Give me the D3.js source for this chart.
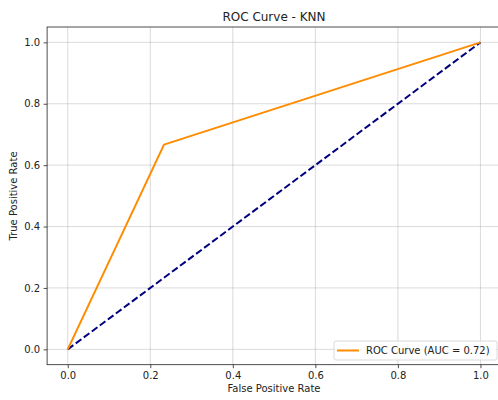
<!DOCTYPE html>
<html><head><meta charset="utf-8">
<script src="https://cdn.jsdelivr.net/npm/d3@7/dist/d3.min.js"></script>
<style>body{margin:0;background:#fff;} text{font-family:"DejaVu Sans",sans-serif;fill:#222;}</style>
</head><body>
<svg id="c" width="498" height="400"></svg>
<script>
const rocFpr = [0.0, 0.2333, 1.0];
const rocTpr = [0.0, 0.6667, 1.0];
const diagX = [0, 1];
const diagY = [0, 1];
const tickValues = [0.0, 0.2, 0.4, 0.6, 0.8, 1.0];
const titleText = "ROC Curve - KNN";
const xLabel = "False Positive Rate";
const yLabel = "True Positive Rate";
const legendLabel = "ROC Curve (AUC = 0.72)";

const svg = d3.select("#c");
const L = 47.1, R = 501.1, T = 27, B = 364.7;
const x = d3.scaleLinear().domain([-0.05, 1.05]).range([L, R]);
const y = d3.scaleLinear().domain([-0.05, 1.05]).range([B, T]);

// grid
const g = svg.append("g");
g.selectAll(".gx").data(tickValues).join("line")
  .attr("x1", d => x(d)).attr("x2", d => x(d)).attr("y1", T).attr("y2", B)
  .attr("stroke", "#b0b0b0").attr("stroke-opacity", 0.6).attr("stroke-width", 0.8);
g.selectAll(".gy").data(tickValues).join("line")
  .attr("y1", d => y(d)).attr("y2", d => y(d)).attr("x1", L).attr("x2", R)
  .attr("stroke", "#b0b0b0").attr("stroke-opacity", 0.6).attr("stroke-width", 0.8);

const line = d3.line().x(d => x(d[0])).y(d => y(d[1]));
svg.append("path").datum(diagX.map((v, i) => [v, diagY[i]]))
  .attr("d", line).attr("fill", "none").attr("stroke", "#000080")
  .attr("stroke-width", 2).attr("stroke-dasharray", "7,3");
svg.append("path").datum(rocFpr.map((v, i) => [v, rocTpr[i]]))
  .attr("d", line).attr("fill", "none").attr("stroke", "#ff8c00")
  .attr("stroke-width", 2).attr("stroke-linejoin", "round");

// axes
const fmt = d3.format(".1f");
const xa = svg.append("g").attr("transform", `translate(0,${B})`)
  .call(d3.axisBottom(x).tickValues(tickValues).tickFormat(fmt).tickSize(3.5).tickPadding(3.5));
const ya = svg.append("g").attr("transform", `translate(${L},0)`)
  .call(d3.axisLeft(y).tickValues(tickValues).tickFormat(fmt).tickSize(3.5).tickPadding(3.5));
[xa, ya].forEach(a => {
  a.select(".domain").remove();
  a.selectAll("line").attr("stroke", "#222").attr("stroke-width", 0.8);
  a.selectAll("text").style("font-family", "DejaVu Sans").style("font-size", "10px").attr("fill", "#222");
});
// spines
svg.append("rect").attr("x", L).attr("y", T).attr("width", R - L).attr("height", B - T)
  .attr("fill", "none").attr("stroke", "#222").attr("stroke-width", 0.8);

svg.append("text").attr("x", 274).attr("y", 21).attr("text-anchor", "middle")
  .style("font-size", "12px").text(titleText);
svg.append("text").attr("x", 274).attr("y", 392).attr("text-anchor", "middle")
  .style("font-size", "10px").text(xLabel);
svg.append("text").attr("transform", "translate(17,196) rotate(-90)").attr("text-anchor", "middle")
  .style("font-size", "10px").text(yLabel);

// legend
const lg = svg.append("g");
lg.append("rect").attr("x", 334).attr("y", 341).attr("width", 163).attr("height", 19)
  .attr("rx", 2).attr("fill", "#fff").attr("fill-opacity", 0.8).attr("stroke", "#d0d0d0").attr("stroke-width", 0.8);
lg.append("line").attr("x1", 337).attr("x2", 359).attr("y1", 350.5).attr("y2", 350.5)
  .attr("stroke", "#ff8c00").attr("stroke-width", 2);
lg.append("text").attr("x", 366).attr("y", 354).style("font-size", "10px").text(legendLabel);
</script>
</body></html>
